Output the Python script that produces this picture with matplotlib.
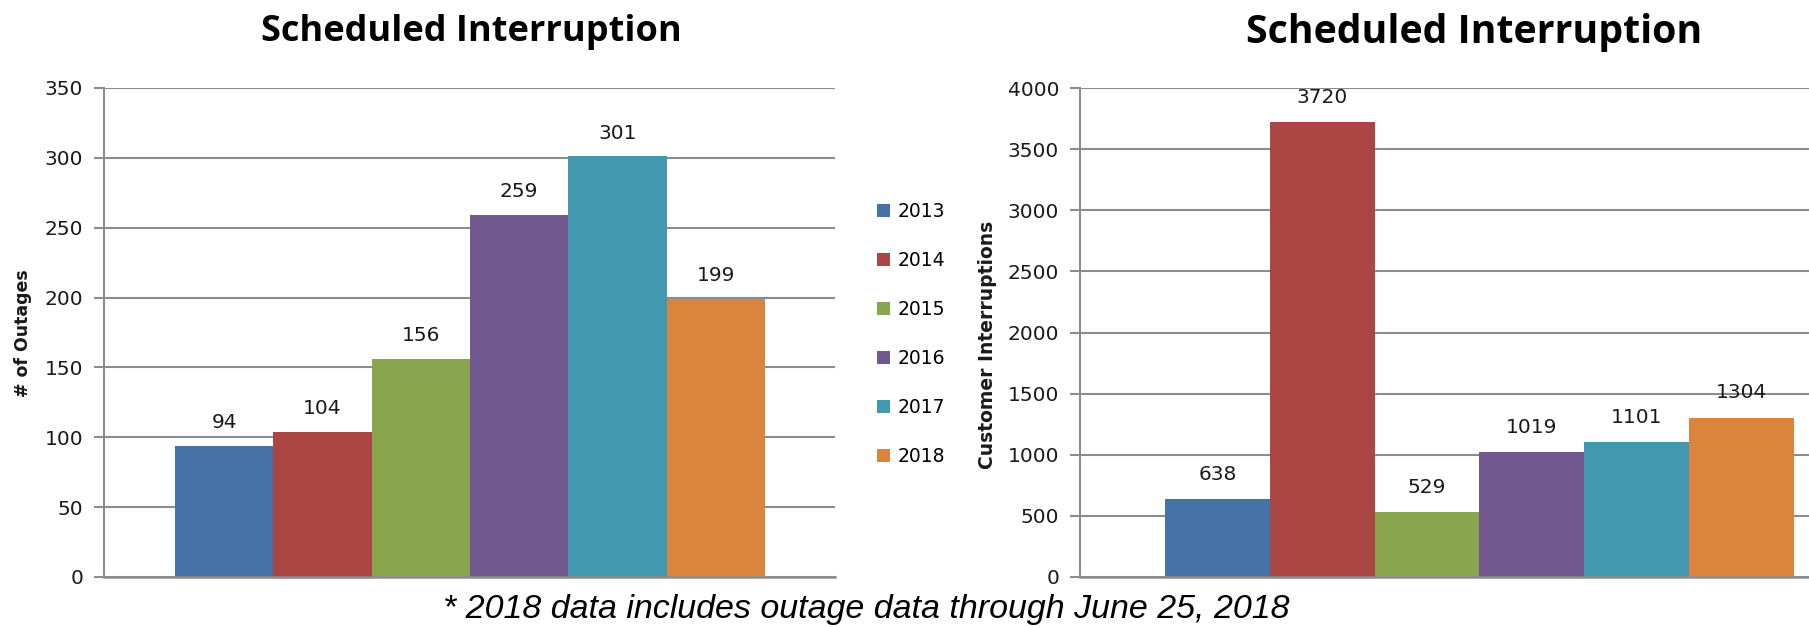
import matplotlib
matplotlib.use("Agg")
import matplotlib.pyplot as plt
from matplotlib.patches import Patch
import numpy as np

years = ["2013", "2014", "2015", "2016", "2017", "2018"]
outages = [94, 104, 156, 259, 301, 199]
customer_interruptions = [638, 3720, 529, 1019, 1101, 1304]
colors = ["#4572a7", "#aa4643", "#89a54e", "#71588f", "#4198af", "#db843d"]
title_text = "Scheduled Interruption"
ylabel_left = "# of Outages"
ylabel_right = "Customer Interruptions"
footnote = "* 2018 data includes outage data through June 25, 2018"

W, H = 1809, 627
fig = plt.figure(figsize=(W / 100, H / 100), dpi=100)
fig.patch.set_facecolor("white")

grid_color = "#8c8c8c"
text_color = "#1a1a1a"


def style_axes(ax, ymax, ystep, xlim):
    ax.set_ylim(0, ymax)
    ax.set_xlim(*xlim)
    ax.set_yticks(np.arange(0, ymax + 1, ystep))
    ax.yaxis.grid(True, color=grid_color, linewidth=1.5)
    ax.set_axisbelow(True)
    for s in ["top", "right"]:
        ax.spines[s].set_visible(False)
    ax.spines["left"].set_color(grid_color)
    ax.spines["left"].set_linewidth(1.5)
    ax.spines["bottom"].set_color(grid_color)
    ax.spines["bottom"].set_linewidth(1.8)
    ax.set_xticks([])
    ax.tick_params(axis="y", direction="out", length=7, width=1.5,
                   color=grid_color, labelsize=14.5, labelcolor=text_color, pad=8)
    for lab in ax.get_yticklabels():
        lab.set_fontfamily("DejaVu Sans")


x = np.arange(len(years))

# Left chart
ax1 = fig.add_axes([104 / W, 1 - 577 / H, (835 - 104) / W, (577 - 88) / H])
bars1 = ax1.bar(x, outages, width=1.0, color=colors)
style_axes(ax1, 350, 50, (-1.222, 6.214))
ax1.bar_label(bars1, labels=[str(v) for v in outages], padding=10,
              fontsize=14.5, family="DejaVu Sans", color=text_color)
fig.text(23 / W, 1 - 333 / H, ylabel_left, rotation=90, ha="center", va="center",
         fontsize=12.5, fontweight="bold", family="DejaVu Sans", color=text_color)

# Right chart
ax2 = fig.add_axes([1080 / W, 1 - 577 / H, (1879 - 1080) / W, (577 - 88) / H])
bars2 = ax2.bar(x, customer_interruptions, width=1.0, color=colors)
style_axes(ax2, 4000, 500, (-1.311, 6.313))
ax2.bar_label(bars2, labels=[str(v) for v in customer_interruptions], padding=11,
              fontsize=14.5, family="DejaVu Sans", color=text_color)
fig.text(988 / W, 1 - 345 / H, ylabel_right, rotation=90, ha="center", va="center",
         fontsize=13.5, fontweight="bold", family="DejaVu Sans", color=text_color)

# Titles
fig.text(471 / W, 1 - 41 / H, title_text, ha="center", va="baseline",
         fontsize=26, fontweight="bold", family="Open Sans", color="black")
fig.text(1474 / W, 1 - 43 / H, title_text, ha="center", va="baseline",
         fontsize=28.3, fontweight="bold", family="Open Sans", color="black")

# Legend
handles = [Patch(facecolor=c, edgecolor="none") for c in colors]
fig.legend(handles, years, loc="center left",
           bbox_to_anchor=(877 / W, 1 - 334.5 / H), frameon=False,
           prop={"family": "DejaVu Sans", "size": 13.5},
           handlelength=0.69, handleheight=0.69, handletextpad=0.4,
           labelspacing=1.6, borderaxespad=0, borderpad=0)

# Footnote
fig.text(866 / W, 1 - 618 / H, footnote, ha="center", va="baseline",
         fontsize=24.5, style="italic",
         family=["Liberation Sans Narrow", "Liberation Sans"], color="black")

fig.savefig("out.png", dpi=100, facecolor="white")
